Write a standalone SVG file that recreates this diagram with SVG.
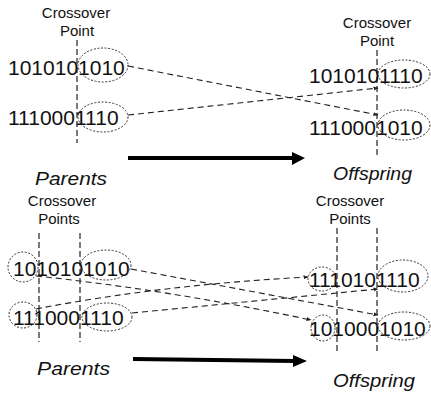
<svg xmlns="http://www.w3.org/2000/svg" width="431" height="395" viewBox="0 0 431 395">
<style>
.lbl{font-family:"Liberation Sans",Arial,sans-serif;font-size:15px;fill:#111;text-anchor:middle}
.bits{font-family:"Liberation Sans",Arial,sans-serif;font-size:21px;fill:#111}
.cap{font-family:"Liberation Sans",Arial,sans-serif;font-size:19px;font-style:italic;fill:#111}
.vline{stroke:#222;stroke-width:1.2;stroke-dasharray:6 3;fill:none}
.oval{stroke:#333;stroke-width:1;stroke-dasharray:2 1.6;fill:none}
.conn{stroke:#222;stroke-width:1.1;stroke-dasharray:6 4;fill:none;marker-end:url(#ah)}
.big{stroke:#000;stroke-width:4;fill:none}
</style>
<defs>
<marker id="ah" viewBox="0 0 10 10" refX="9" refY="5" markerWidth="5" markerHeight="5" orient="auto" markerUnits="userSpaceOnUse">
<path d="M0,1 L10,5 L0,9 z" fill="#222"/>
</marker>
</defs>
<rect width="431" height="395" fill="#fff"/>

<!-- Top section -->
<g id="top-parent-label">
<text class="lbl" x="76" y="18">Crossover</text>
<text class="lbl" x="77" y="36">Point</text>
<line class="vline" x1="77" y1="40" x2="77" y2="143"/>
</g>
<g id="top-parent1">
<text class="bits" x="8" y="75">1010101010</text>
<ellipse class="oval" cx="103" cy="65" rx="25" ry="17"/>
</g>
<g id="top-parent2">
<text class="bits" x="8" y="125">1110001110</text>
<ellipse class="oval" cx="103" cy="117" rx="25" ry="15"/>
</g>
<g id="top-off-label">
<text class="lbl" x="377" y="28">Crossover</text>
<text class="lbl" x="377" y="46">Point</text>
<line class="vline" x1="377" y1="50" x2="377" y2="155"/>
</g>
<g id="top-off1">
<text class="bits" x="309" y="83">1010101110</text>
<ellipse class="oval" cx="404" cy="74" rx="26" ry="14"/>
</g>
<g id="top-off2">
<text class="bits" x="309" y="135">1110001010</text>
<ellipse class="oval" cx="404" cy="125" rx="26" ry="15"/>
</g>
<g id="top-captions">
<text class="cap" x="35" y="185" textLength="72" lengthAdjust="spacingAndGlyphs">Parents</text>
<text class="cap" x="333" y="180" textLength="79" lengthAdjust="spacingAndGlyphs">Offspring</text>
</g>

<!-- Bottom section -->
<g id="bot-parent-label">
<text class="lbl" x="62" y="206">Crossover</text>
<text class="lbl" x="59" y="224">Points</text>
<line class="vline" x1="39" y1="233" x2="39" y2="342"/>
<line class="vline" x1="80" y1="233" x2="80" y2="342"/>
</g>
<g id="bot-parent1">
<text class="bits" x="13" y="276">1010101010</text>
<ellipse class="oval" cx="23" cy="267" rx="15" ry="15"/>
<ellipse class="oval" cx="106" cy="265" rx="25" ry="15"/>
</g>
<g id="bot-parent2">
<text class="bits" x="13" y="325">1110001110</text>
<ellipse class="oval" cx="23" cy="315" rx="14" ry="13"/>
<ellipse class="oval" cx="107" cy="317" rx="25" ry="14"/>
</g>
<g id="bot-off-label">
<text class="lbl" x="350" y="206">Crossover</text>
<text class="lbl" x="350" y="224">Points</text>
<line class="vline" x1="337" y1="228" x2="337" y2="353"/>
<line class="vline" x1="377" y1="228" x2="377" y2="353"/>
</g>
<g id="bot-off1">
<text class="bits" x="309" y="287">1110101110</text>
<ellipse class="oval" cx="322" cy="279" rx="14" ry="12"/>
<ellipse class="oval" cx="403" cy="276" rx="25" ry="16"/>
</g>
<g id="bot-off2">
<text class="bits" x="309" y="336">1010001010</text>
<ellipse class="oval" cx="323" cy="328" rx="12" ry="13"/>
<ellipse class="oval" cx="404" cy="326" rx="26" ry="14"/>
</g>
<g id="bot-captions">
<text class="cap" x="37" y="375" textLength="73" lengthAdjust="spacingAndGlyphs">Parents</text>
<text class="cap" x="333" y="387" textLength="82" lengthAdjust="spacingAndGlyphs">Offspring</text>
</g>

<g id="connectors">
<path class="conn" d="M128,66 L378,115"/>
<path class="conn" d="M128,115 L378,88"/>
<path class="conn" d="M131,269 L378,315"/>
<path class="conn" d="M36,276 Q170,290 311,320"/>
<path class="conn" d="M36,309 Q160,285 308,277"/>
<path class="conn" d="M132,313 L378,289"/>
<line class="big" x1="128" y1="158" x2="294" y2="158"/>
<path d="M292,152 L305,158 L292,165 z" fill="#000"/>
<line class="big" x1="133" y1="359" x2="295" y2="361"/>
<path d="M293,355 L307,361 L293,367 z" fill="#000"/>
</g>
</svg>
